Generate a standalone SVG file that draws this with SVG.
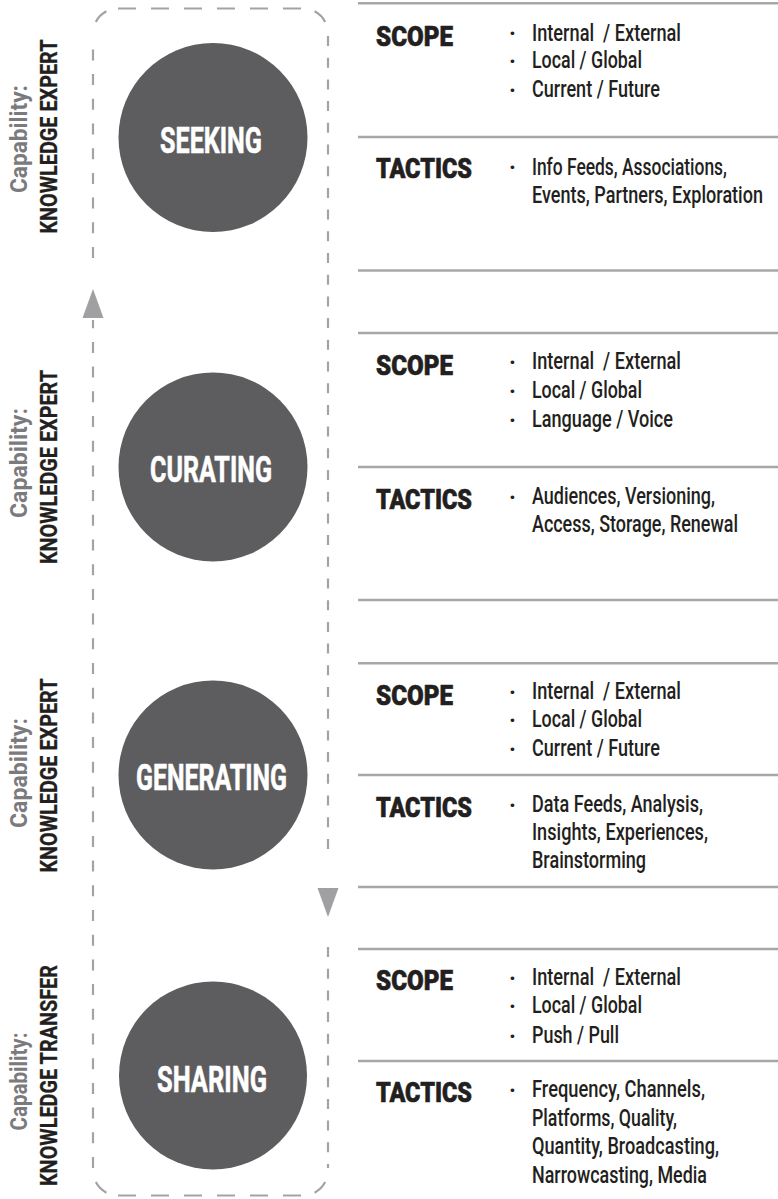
<svg xmlns="http://www.w3.org/2000/svg" width="778" height="1199" viewBox="0 0 778 1199">
  <style>
    .frame { fill: none; stroke: #a3a3a5; stroke-width: 2.2; }
    .rule { stroke: #a7a7a9; stroke-width: 2.5; }
    .arrow { fill: #a0a0a2; }
    .disc { fill: #5d5d5f; }
    .stage { font-family: Roboto, "Liberation Sans", sans-serif; font-weight: 700; font-size: 37px; fill: #ffffff; stroke: #ffffff; stroke-width: 0.6; }
    .cap { font-family: Roboto, "Liberation Sans", sans-serif; font-weight: 700; font-size: 24px; fill: #7b7b7d; }
    .role { font-family: Roboto, "Liberation Sans", sans-serif; font-weight: 700; font-size: 24px; fill: #231f20; stroke: #231f20; stroke-width: 0.3; }
    .head { font-family: Roboto, "Liberation Sans", sans-serif; font-weight: 900; font-size: 27px; fill: #231f20; stroke: #231f20; stroke-width: 0.6; }
    .item { font-family: Roboto, "Liberation Sans", sans-serif; font-weight: 500; font-size: 23px; fill: #231f20; }
    .dot { font-family: Roboto, "Liberation Sans", sans-serif; font-weight: 700; font-size: 23px; fill: #231f20; }
  </style>

  <!-- dashed cycle frame with direction arrows -->
  <g id="connectors">
    <!-- top edge and corners -->
    <path class="frame" d="M118 8.5 H303" stroke-dasharray="18 15"/>
    <path class="frame" d="M93 33.5 A25 25 0 0 1 118 8.5" stroke-dasharray="0 12 15 100"/>
    <path class="frame" d="M303 8.5 A25 25 0 0 1 328 33.5" stroke-dasharray="0 12 15 100"/>
    <!-- bottom edge and corners -->
    <path class="frame" d="M118 1195.5 H303" stroke-dasharray="18 15"/>
    <path class="frame" d="M93 1170.5 A25 25 0 0 0 118 1195.5" stroke-dasharray="0 12 15 100"/>
    <path class="frame" d="M303 1195.5 A25 25 0 0 0 328 1170.5" stroke-dasharray="0 12 15 100"/>
    <!-- left side, upward flow -->
    <path class="frame" d="M93 1168 V320" stroke-dasharray="11 13.7"/>
    <path class="frame" d="M93 258 V36" stroke-dasharray="11 13.7"/>
    <polygon class="arrow" points="93,289 103.5,318 82.5,318"/>
    <!-- right side, downward flow -->
    <path class="frame" d="M328 36 V857" stroke-dasharray="10 11.7"/>
    <path class="frame" d="M328 947 V1168" stroke-dasharray="10 11.7"/>
    <polygon class="arrow" points="317.5,888 338.5,888 328,917"/>
  </g>

  <!-- stage: seeking -->
  <g id="seeking">
    <circle class="disc" cx="213" cy="137.5" r="94.5"/>
    <text class="stage" x="160" y="153" textLength="102" lengthAdjust="spacingAndGlyphs">SEEKING</text>
    <text class="cap" transform="translate(27.3,139) rotate(-90)" text-anchor="middle" textLength="108" lengthAdjust="spacingAndGlyphs">Capability:</text>
    <text class="role" transform="translate(57,136.5) rotate(-90)" text-anchor="middle" textLength="194" lengthAdjust="spacingAndGlyphs">KNOWLEDGE EXPERT</text>
    <line class="rule" x1="358" y1="3.3" x2="778" y2="3.3"/>
    <line class="rule" x1="358" y1="137" x2="778" y2="137"/>
    <line class="rule" x1="358" y1="270.5" x2="778" y2="270.5"/>
    <text class="head" x="376" y="46" textLength="77" lengthAdjust="spacingAndGlyphs">SCOPE</text>
    <text class="head" x="376" y="178" textLength="96" lengthAdjust="spacingAndGlyphs">TACTICS</text>
    <text class="dot" x="509" y="41">·</text>
    <text class="dot" x="509" y="69">·</text>
    <text class="dot" x="509" y="97.5">·</text>
    <text class="dot" x="509" y="175">·</text>
    <!-- condensed item lines: x' = 0.8x + 106.4 keeps x=532 in place -->
    <g transform="matrix(0.8 0 0 1 106.4 0)">
      <text class="item" x="532" y="40.7" xml:space="preserve" textLength="186.25" lengthAdjust="spacingAndGlyphs">Internal  / External</text>
      <text class="item" x="532" y="68.5" textLength="137.5" lengthAdjust="spacingAndGlyphs">Local / Global</text>
      <text class="item" x="532" y="97.3" textLength="160" lengthAdjust="spacingAndGlyphs">Current / Future</text>
      <text class="item" x="532" y="175" textLength="243.75" lengthAdjust="spacingAndGlyphs">Info Feeds, Associations,</text>
      <text class="item" x="532" y="203.3" textLength="288.75" lengthAdjust="spacingAndGlyphs">Events, Partners, Exploration</text>
    </g>
  </g>

  <!-- stage: curating -->
  <g id="curating">
    <circle class="disc" cx="213" cy="467" r="94.5"/>
    <text class="stage" x="150" y="482" textLength="122" lengthAdjust="spacingAndGlyphs">CURATING</text>
    <text class="cap" transform="translate(27.3,463) rotate(-90)" text-anchor="middle" textLength="110" lengthAdjust="spacingAndGlyphs">Capability:</text>
    <text class="role" transform="translate(57,467) rotate(-90)" text-anchor="middle" textLength="194" lengthAdjust="spacingAndGlyphs">KNOWLEDGE EXPERT</text>
    <line class="rule" x1="358" y1="333" x2="778" y2="333"/>
    <line class="rule" x1="358" y1="467" x2="778" y2="467"/>
    <line class="rule" x1="358" y1="600" x2="778" y2="600"/>
    <text class="head" x="376" y="375" textLength="77" lengthAdjust="spacingAndGlyphs">SCOPE</text>
    <text class="head" x="376" y="509" textLength="96" lengthAdjust="spacingAndGlyphs">TACTICS</text>
    <text class="dot" x="509" y="369.5">·</text>
    <text class="dot" x="509" y="398.5">·</text>
    <text class="dot" x="509" y="427.5">·</text>
    <text class="dot" x="509" y="504.5">·</text>
    <g transform="matrix(0.8 0 0 1 106.4 0)">
      <text class="item" x="532" y="369" xml:space="preserve" textLength="186.25" lengthAdjust="spacingAndGlyphs">Internal  / External</text>
      <text class="item" x="532" y="398" textLength="137.5" lengthAdjust="spacingAndGlyphs">Local / Global</text>
      <text class="item" x="532" y="427" textLength="176.25" lengthAdjust="spacingAndGlyphs">Language / Voice</text>
      <text class="item" x="532" y="504" textLength="228.75" lengthAdjust="spacingAndGlyphs">Audiences, Versioning,</text>
      <text class="item" x="532" y="532" textLength="257.5" lengthAdjust="spacingAndGlyphs">Access, Storage, Renewal</text>
    </g>
  </g>

  <!-- stage: generating -->
  <g id="generating">
    <circle class="disc" cx="213" cy="775" r="94.5"/>
    <text class="stage" x="136" y="790" textLength="151" lengthAdjust="spacingAndGlyphs">GENERATING</text>
    <text class="cap" transform="translate(27.3,773) rotate(-90)" text-anchor="middle" textLength="110" lengthAdjust="spacingAndGlyphs">Capability:</text>
    <text class="role" transform="translate(57,775.5) rotate(-90)" text-anchor="middle" textLength="194" lengthAdjust="spacingAndGlyphs">KNOWLEDGE EXPERT</text>
    <line class="rule" x1="358" y1="663.3" x2="778" y2="663.3"/>
    <line class="rule" x1="358" y1="775" x2="778" y2="775"/>
    <line class="rule" x1="358" y1="887" x2="778" y2="887"/>
    <text class="head" x="376" y="705" textLength="77" lengthAdjust="spacingAndGlyphs">SCOPE</text>
    <text class="head" x="376" y="817" textLength="96" lengthAdjust="spacingAndGlyphs">TACTICS</text>
    <text class="dot" x="509" y="699.5">·</text>
    <text class="dot" x="509" y="727.5">·</text>
    <text class="dot" x="509" y="756.5">·</text>
    <text class="dot" x="509" y="812.5">·</text>
    <g transform="matrix(0.8 0 0 1 106.4 0)">
      <text class="item" x="532" y="699" xml:space="preserve" textLength="186.25" lengthAdjust="spacingAndGlyphs">Internal  / External</text>
      <text class="item" x="532" y="727" textLength="137.5" lengthAdjust="spacingAndGlyphs">Local / Global</text>
      <text class="item" x="532" y="756" textLength="160" lengthAdjust="spacingAndGlyphs">Current / Future</text>
      <text class="item" x="532" y="812" textLength="213.75" lengthAdjust="spacingAndGlyphs">Data Feeds, Analysis,</text>
      <text class="item" x="532" y="840" textLength="220" lengthAdjust="spacingAndGlyphs">Insights, Experiences,</text>
      <text class="item" x="532" y="868" textLength="142.5" lengthAdjust="spacingAndGlyphs">Brainstorming</text>
    </g>
  </g>

  <!-- stage: sharing -->
  <g id="sharing">
    <circle class="disc" cx="213" cy="1075.5" r="94"/>
    <text class="stage" x="157" y="1092" textLength="110" lengthAdjust="spacingAndGlyphs">SHARING</text>
    <text class="cap" transform="translate(27.3,1081.5) rotate(-90)" text-anchor="middle" textLength="98" lengthAdjust="spacingAndGlyphs">Capability:</text>
    <text class="role" transform="translate(57,1075.5) rotate(-90)" text-anchor="middle" textLength="221" lengthAdjust="spacingAndGlyphs">KNOWLEDGE TRANSFER</text>
    <line class="rule" x1="358" y1="949" x2="778" y2="949"/>
    <line class="rule" x1="358" y1="1061" x2="778" y2="1061"/>
    <text class="head" x="376" y="990" textLength="77" lengthAdjust="spacingAndGlyphs">SCOPE</text>
    <text class="head" x="376" y="1102" textLength="96" lengthAdjust="spacingAndGlyphs">TACTICS</text>
    <text class="dot" x="509" y="985.5">·</text>
    <text class="dot" x="509" y="1013.5">·</text>
    <text class="dot" x="509" y="1043.5">·</text>
    <text class="dot" x="509" y="1097.5">·</text>
    <g transform="matrix(0.8 0 0 1 106.4 0)">
      <text class="item" x="532" y="985" xml:space="preserve" textLength="186.25" lengthAdjust="spacingAndGlyphs">Internal  / External</text>
      <text class="item" x="532" y="1013" textLength="137.5" lengthAdjust="spacingAndGlyphs">Local / Global</text>
      <text class="item" x="532" y="1043" textLength="108.75" lengthAdjust="spacingAndGlyphs">Push / Pull</text>
      <text class="item" x="532" y="1097" textLength="216.25" lengthAdjust="spacingAndGlyphs">Frequency, Channels,</text>
      <text class="item" x="532" y="1126" textLength="181.25" lengthAdjust="spacingAndGlyphs">Platforms, Quality,</text>
      <text class="item" x="532" y="1154" textLength="233.75" lengthAdjust="spacingAndGlyphs">Quantity, Broadcasting,</text>
      <text class="item" x="532" y="1183" textLength="218.75" lengthAdjust="spacingAndGlyphs">Narrowcasting, Media</text>
    </g>
  </g>
</svg>
